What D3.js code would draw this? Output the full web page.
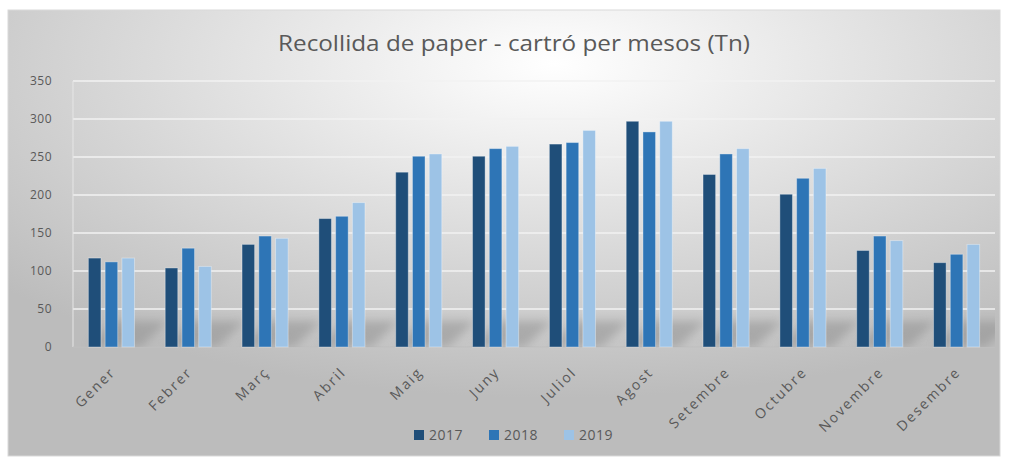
<!DOCTYPE html>
<html>
<head>
<meta charset="utf-8">
<script src="https://cdn.jsdelivr.net/npm/d3@7"></script>
<style>
  body { margin: 0; background: #ffffff; }
  text { font-family: "Open Sans", "Liberation Sans", sans-serif; fill: #595959; }
</style>
</head>
<body>
<div id="chart"></div>
<script>
// data
var months = ["Gener", "Febrer", "Març", "Abril", "Maig", "Juny", "Juliol", "Agost", "Setembre", "Octubre", "Novembre", "Desembre"];
var years = ["2017", "2018", "2019"];
var v2017 = [117, 104, 135, 169, 230, 251, 267, 297, 227, 201, 127, 111];
var v2018 = [112, 130, 146, 172, 251, 261, 269, 283, 254, 222, 146, 122];
var v2019 = [117, 106, 143, 190, 254, 264, 285, 297, 261, 235, 140, 135];
var yTicks = [0, 50, 100, 150, 200, 250, 300, 350];
var colors = ["#1f4e79", "#2e75b6", "#9dc3e6"];
var title = "Recollida de paper - cartró per mesos (Tn)";

var W = 1009, H = 464;
var margin = { top: 81, right: 14, bottom: 117, left: 73 };

var rows = months.map(function (m, i) {
  return { month: m, values: [v2017[i], v2018[i], v2019[i]] };
});

var svg = d3.select("#chart").append("svg")
  .attr("width", W)
  .attr("height", H);

var defs = svg.append("defs");
var grad = defs.append("radialGradient")
  .attr("id", "bg")
  .attr("cx", "55%").attr("cy", "12%").attr("r", "75%");
grad.append("stop").attr("offset", "0%").attr("stop-color", "#ffffff");
grad.append("stop").attr("offset", "55%").attr("stop-color", "#dadada");
grad.append("stop").attr("offset", "100%").attr("stop-color", "#bcbcbc");

var blur = defs.append("filter").attr("id", "blur")
  .attr("x", "-50%").attr("y", "-50%").attr("width", "200%").attr("height", "200%");
blur.append("feGaussianBlur").attr("stdDeviation", 5);

defs.append("clipPath").attr("id", "plotclip")
  .append("rect")
  .attr("x", margin.left).attr("y", margin.top)
  .attr("width", W - margin.left - margin.right)
  .attr("height", H - margin.top - margin.bottom);

// chart frame
svg.append("rect")
  .attr("x", 8).attr("y", 10)
  .attr("width", 992).attr("height", 446)
  .attr("fill", "url(#bg)")
  .attr("stroke", "#d9d9d9");

var x = d3.scaleBand()
  .domain(months)
  .range([margin.left, W - margin.right])
  .paddingInner(0.4)
  .paddingOuter(0.2);

var xs = d3.scaleBand()
  .domain(years)
  .range([0, x.bandwidth()])
  .paddingInner(0.25);

var y = d3.scaleLinear()
  .domain([0, 350])
  .range([H - margin.bottom, margin.top]);

// gridlines
svg.append("g")
  .selectAll("line")
  .data(yTicks.slice(1))
  .enter()
  .append("line")
  .attr("x1", margin.left)
  .attr("x2", W - margin.right)
  .attr("y1", function (d) { return y(d); })
  .attr("y2", function (d) { return y(d); })
  .attr("stroke", "#f2f2f2")
  .attr("stroke-width", 1.5);

// plot area border (left) and baseline
svg.append("line")
  .attr("x1", margin.left).attr("x2", margin.left)
  .attr("y1", y(350)).attr("y2", y(0))
  .attr("stroke", "#e6e6e6");
svg.append("line")
  .attr("x1", margin.left).attr("x2", W - margin.right)
  .attr("y1", y(0)).attr("y2", y(0))
  .attr("stroke", "#bfbfbf");

// soft floor shadows behind each group
svg.append("g")
  .attr("clip-path", "url(#plotclip)")
  .selectAll("path")
  .data(rows)
  .enter()
  .append("path")
  .attr("d", function (d) {
    var x0 = x(d.month), x1 = x(d.month) + x.bandwidth();
    var b = y(0), t = y(0) - 26;
    return "M" + x0 + "," + b + "L" + (x1 + 6) + "," + b + "L" + (x1 + 34) + "," + t + "L" + (x0 + 26) + "," + t + "Z";
  })
  .attr("fill", "#8c8c8c")
  .attr("opacity", 0.5)
  .attr("filter", "url(#blur)");

// bars
var groups = svg.append("g")
  .selectAll("g")
  .data(rows)
  .enter()
  .append("g")
  .attr("transform", function (d) { return "translate(" + x(d.month) + ",0)"; });

groups.selectAll("rect")
  .data(function (d) { return d.values.map(function (v, i) { return { year: years[i], value: v, i: i }; }); })
  .enter()
  .append("rect")
  .attr("x", function (d) { return xs(d.year); })
  .attr("y", function (d) { return y(d.value); })
  .attr("width", xs.bandwidth())
  .attr("height", function (d) { return y(0) - y(d.value); })
  .attr("fill", function (d) { return colors[d.i]; })
  .attr("stroke", "#ffffff")
  .attr("stroke-opacity", 0.35)
  .attr("stroke-width", 1);

// y axis labels
svg.append("g")
  .selectAll("text")
  .data(yTicks)
  .enter()
  .append("text")
  .attr("x", 52)
  .attr("y", function (d) { return y(d); })
  .attr("dy", "0.35em")
  .attr("text-anchor", "end")
  .style("font-size", "12px")
  .style("letter-spacing", "0.5px")
  .text(function (d) { return d; });

// x axis labels, rotated
svg.append("g")
  .selectAll("text")
  .data(months)
  .enter()
  .append("text")
  .attr("transform", function (d) {
    return "translate(" + (x(d) + x.bandwidth() / 2 + 5) + "," + (y(0) + 26) + ") rotate(-45)";
  })
  .attr("text-anchor", "end")
  .style("font-size", "14px")
  .style("letter-spacing", "2px")
  .text(function (d) { return d; });

// title
svg.append("text")
  .attr("x", 514)
  .attr("y", 51)
  .attr("text-anchor", "middle")
  .attr("textLength", 472)
  .attr("lengthAdjust", "spacingAndGlyphs")
  .style("font-size", "22px")
  .text(title);

// legend
var legend = svg.append("g")
  .selectAll("g")
  .data(years)
  .enter()
  .append("g")
  .attr("transform", function (d, i) { return "translate(" + (414 + i * 75) + ",430)"; });
legend.append("rect")
  .attr("width", 10)
  .attr("height", 10)
  .attr("fill", function (d, i) { return colors[i]; });
legend.append("text")
  .attr("x", 15)
  .attr("y", 5)
  .attr("dy", "0.36em")
  .style("font-size", "14px")
  .style("letter-spacing", "0.5px")
  .text(function (d) { return d; });
</script>
</body>
</html>
